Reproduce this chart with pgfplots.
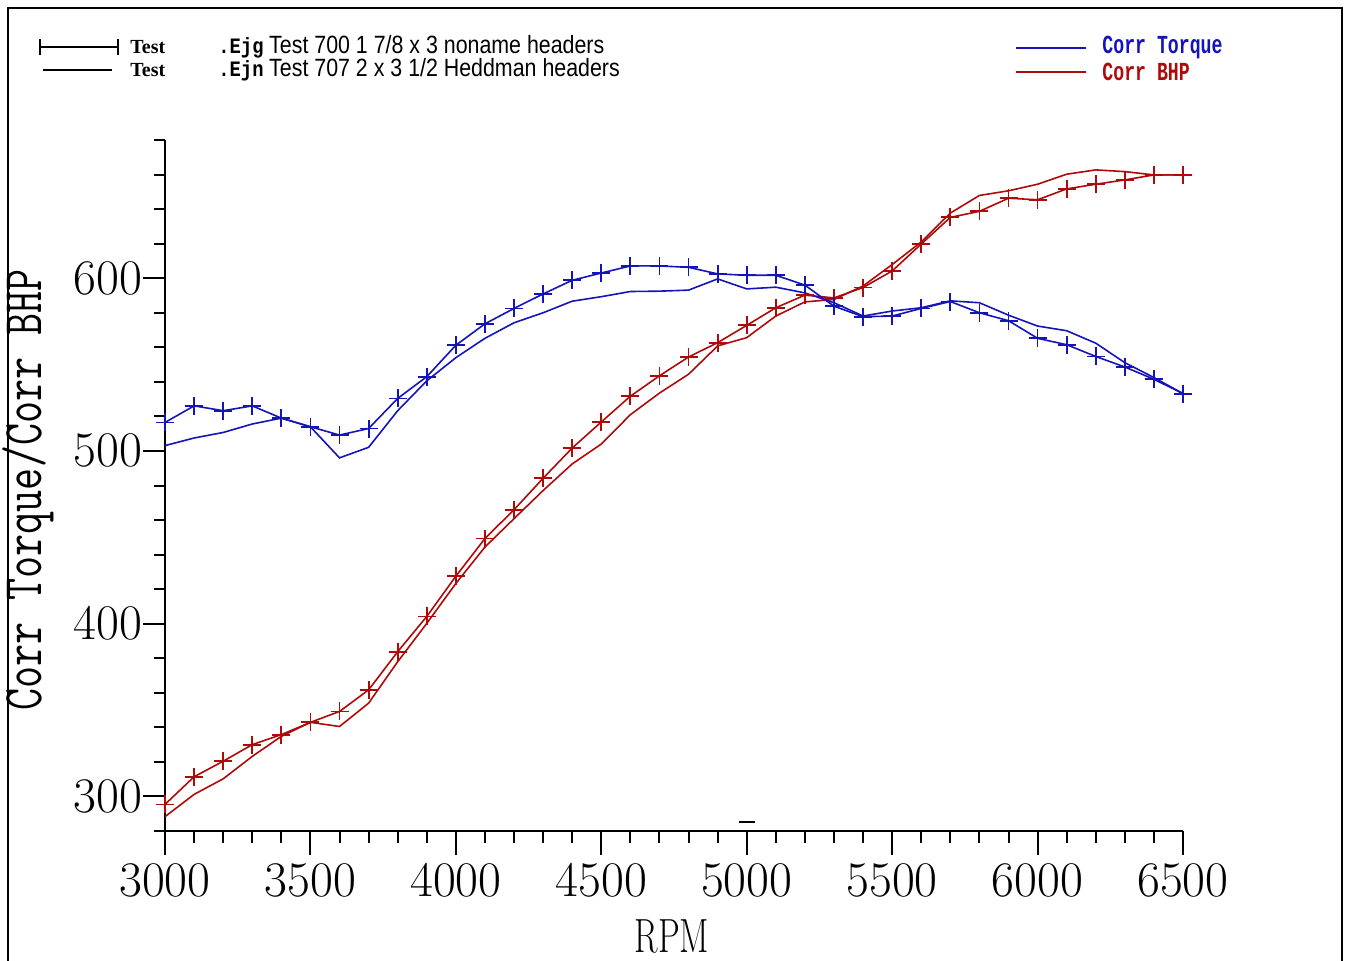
\documentclass[border=0pt]{standalone}
\usepackage{fontspec}
\usepackage{graphicx}
\usepackage{pgfplots}
\pgfplotsset{compat=1.18}
\newfontfamily\monof{Liberation Mono}
\newfontfamily\sansf{Liberation Sans}
\newfontfamily\seriff{Liberation Serif}
\definecolor{tqblue}{RGB}{20,20,185}
\definecolor{hpred}{RGB}{175,10,10}

% Test 700: 1 7/8 x 3 noname headers (marked curves)
\pgfplotstableread{
rpm  tq     hp
3000 516.5  295.4
3100 526.1  311.4
3200 523.3  320.4
3300 526.1  330.0
3400 519.0  335.8
3500 514.0  342.9
3600 509.2  349.2
3700 513.0  361.7
3800 530.4  383.8
3900 543.0  404.2
4000 561.2  427.5
4100 573.6  449.3
4200 582.5  466.0
4300 590.9  484.2
4400 598.8  501.7
4500 603.0  516.8
4600 607.1  531.7
4700 607.1  543.5
4800 606.3  554.4
4900 602.5  562.7
5000 601.7  572.7
5100 601.7  582.9
5200 596.0  590.2
5300 583.8  588.6
5400 577.7  594.6
5500 578.1  604.2
5600 582.5  619.8
5700 586.5  635.2
5800 580.0  638.7
5900 575.4  646.3
6000 565.2  645.4
6100 561.5  651.7
6200 554.7  654.4
6300 548.6  656.9
6400 541.5  659.8
6500 533.2  659.8
}\testA

% Test 707: 2 x 3 1/2 Heddman headers (plain curves)
\pgfplotstableread{
rpm  tq     hp
3000 503.1  288.3
3100 507.5  301.2
3200 510.7  310.2
3300 515.6  323.2
3400 519.0  334.8
3500 514.0  342.9
3600 496.0  340.5
3700 502.1  354.0
3800 523.3  378.0
3900 540.6  400.2
4000 554.0  423.3
4100 565.2  444.4
4200 574.2  460.8
4300 580.0  477.1
4400 586.7  492.5
4500 589.3  504.0
4600 592.3  521.0
4700 592.5  533.5
4800 593.1  544.4
4900 599.6  560.8
5000 593.8  565.6
5100 594.8  578.1
5200 591.5  586.3
5300 585.8  587.7
5400 578.1  595.5
5500 581.0  607.9
5600 582.9  621.0
5700 586.9  637.7
5800 585.8  647.9
5900 578.6  650.6
6000 572.3  654.4
6100 569.6  660.2
6200 562.4  662.7
6300 551.1  661.7
6400 542.5  659.8
6500 533.2  659.8
}\testB

\begin{document}
\begin{tikzpicture}[x=1pt,y=1pt]
\begin{axis}[
    at={(82.5pt,64.5pt)}, anchor=south west,
    scale only axis, width=509pt, height=345.5pt,
    xmin=3000, xmax=6500, ymin=280, ymax=680,
    axis x line=bottom, axis y line=left,
    axis line style={-, line width=0.9pt},
    x axis line style={shorten <=-5pt},
    xtick={3000,3500,4000,4500,5000,5500,6000,6500},
    ytick={300,400,500,600},
    minor ytick={280,320,340,360,380,420,440,460,480,520,540,560,580,620,640,660,680},
    tick align=outside,
    major tick length=11pt, minor tick length=5.5pt,
    every tick/.style={black, line width=1pt},
    every minor tick/.style={black, line width=1pt},
    tick label style={font=\fontsize{23}{25}\selectfont},
    xticklabel style={yshift=-2pt},
    yticklabel style={xshift=3pt},
    /pgf/number format/1000 sep={},
    xlabel={\fontsize{24}{26}\selectfont\scalebox{0.72}[1]{RPM}},
    xlabel style={at={(axis description cs:0.498,-0.152)}, anchor=center},
    ylabel={\ttfamily\fontsize{28}{30}\selectfont\scalebox{0.765}[1]{Corr Torque/Corr BHP}},
    ylabel style={at={(axis description cs:-0.1346,0.4935)}, anchor=center},
    clip=false,
]
\addplot[hpred, line width=0.8pt] table[x=rpm, y=hp] {\testB};
\addplot[hpred, line width=0.8pt, mark=+, mark size=4.5pt,
    mark options={line width=0.9pt}] table[x=rpm, y=hp] {\testA};
\addplot[tqblue, line width=0.8pt] table[x=rpm, y=tq] {\testB};
\addplot[tqblue, line width=0.8pt, mark=+, mark size=4.5pt,
    mark options={line width=0.9pt}] table[x=rpm, y=tq] {\testA};
\draw[black, line width=0.9pt] (axis cs:4975,285) -- (axis cs:5030,285);
\end{axis}

% x ticks below the axis: every 100 rpm, longer every 500
\foreach \i in {0,...,35} {
  \pgfmathsetmacro{\tx}{82.5+\i*14.54286}
  \pgfmathsetmacro{\tl}{mod(\i,5)==0 ? 12 : 6}
  \draw[black, line width=1pt] (\tx,64.5) -- (\tx,64.5-\tl);
}

\pgfresetboundingbox
\useasboundingbox (0,0) rectangle (676,480);
\draw[black, line width=1pt] (4,-10) -- (4,476) -- (671,476) -- (671,-10);

% legend, top left
\draw[black, line width=0.7pt] (20,456.5) -- (59,456.5);
\draw[black, line width=0.7pt] (20,452.5) -- (20,460.5) (59,452.5) -- (59,460.5);
\draw[black, line width=0.7pt] (21.5,445) -- (56,445);
\node[anchor=west, inner sep=0] at (65,456.5) {\seriff\bfseries\fontsize{10}{12}\selectfont Test};
\node[anchor=west, inner sep=0] at (65,445) {\seriff\bfseries\fontsize{10}{12}\selectfont Test};
\node[anchor=west, inner sep=0] at (109,456.5) {\scalebox{0.855}[1]{{\monof\bfseries\fontsize{11}{12}\selectfont .Ejg} \sansf\fontsize{12.5}{14}\selectfont Test 700 1 7/8 x 3 noname headers}};
\node[anchor=west, inner sep=0] at (109,445) {\scalebox{0.855}[1]{{\monof\bfseries\fontsize{11}{12}\selectfont .Ejn} \sansf\fontsize{12.5}{14}\selectfont Test 707 2 x 3 1/2 Heddman headers}};

% legend, top right
\draw[tqblue, line width=0.8pt] (508,456) -- (543,456);
\draw[hpred, line width=0.8pt] (508,444) -- (543,444);
\node[anchor=west, inner sep=0, text=tqblue] at (551,456) {\monof\bfseries\fontsize{13}{14}\selectfont\scalebox{0.7}[1]{Corr Torque}};
\node[anchor=west, inner sep=0, text=hpred] at (551,444) {\monof\bfseries\fontsize{13}{14}\selectfont\scalebox{0.7}[1]{Corr BHP}};
\end{tikzpicture}
\end{document}
